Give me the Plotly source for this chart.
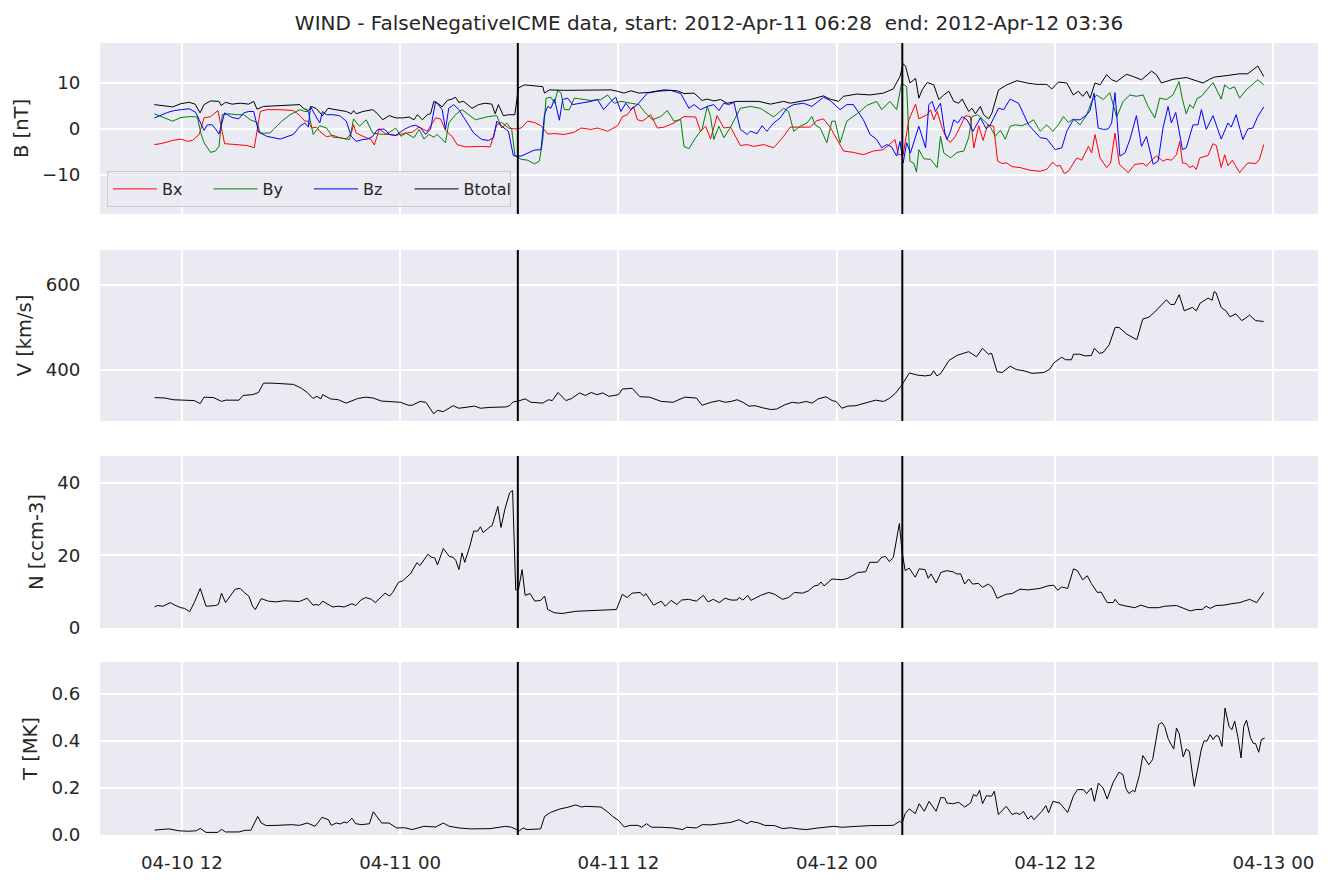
import pandas as pd
import plotly.graph_objects as go

BASE = pd.Timestamp("2012-04-10 00:00")
TITLE = "WIND - FalseNegativeICME data, start: 2012-Apr-11 06:28\u00a0 end: 2012-Apr-12 03:36"
EVENT_START_H = 30 + 28 / 60   # 2012-04-11 06:28
EVENT_END_H = 51 + 36 / 60     # 2012-04-12 03:36

# ---------- magnetic field [nT]; times in hours since 2012-04-10 00:00 ----------
bt_h = [10.49,10.95,11.49,11.95,12.40,12.73,13.00,13.22,13.58,14.04,14.16,14.40,14.76,15.22,15.67,15.95,16.13,16.49,17.40,18.49,18.67,18.95,19.13,19.40,19.73,20.04,20.31,21.04,21.31,21.44,21.58,21.95,22.49,22.76,23.04,23.40,23.76,24.13,24.49,24.76,24.95,25.22,25.49,25.67,25.85,26.13,26.31,26.58,26.85,27.04,27.22,27.49,27.95,28.31,28.67,29.04,29.22,29.40,29.67,29.98,30.30,30.50,30.83,31.20,31.84,31.93,32.20,33.02,34.67,35.58,35.95,36.31,36.68,37.13,37.77,38.50,39.23,39.60,40.15,40.60,40.88,41.24,41.61,41.97,42.52,43.25,43.71,44.35,45.08,45.44,45.99,46.54,47.27,47.63,48.09,48.37,49.10,49.83,50.56,51.10,51.47,51.65,51.78,52.02,52.33,52.51,52.69,52.97,53.33,53.61,53.88,54.16,54.43,54.70,54.89,55.25,55.43,55.62,55.89,56.07,56.35,56.53,56.89,57.35,57.90,58.45,59.00,59.54,59.82,60.18,60.64,61.00,61.28,61.52,61.74,61.92,62.19,62.47,62.83,63.11,63.38,63.93,64.29,64.75,65.30,65.57,65.84,66.12,66.48,67.21,67.58,68.13,68.49,68.77,69.41,70.14,70.59,70.87,71.14,71.47]
bt = [5.3,5.1,4.8,5.5,5.8,5.4,3.5,5.3,6.1,6.0,5.1,5.8,5.4,5.6,5.4,6.0,4.3,4.9,5.1,5.3,4.5,4.0,4.9,4.4,2.9,4.5,4.3,3.8,3.3,4.0,3.3,3.8,4.2,3.3,2.0,2.9,2.4,2.4,2.6,2.0,3.1,2.0,3.1,3.3,6.0,5.4,4.8,6.2,6.5,6.9,5.8,6.0,4.5,5.3,5.6,5.4,3.3,5.3,2.9,3.1,3.1,8.9,9.6,9.5,9.2,7.8,8.5,8.4,8.4,8.5,8.2,7.8,8.3,7.8,8.0,8.5,8.3,7.7,7.8,6.2,6.5,6.1,6.4,5.6,6.0,6.1,6.0,5.4,6.0,5.6,6.0,6.4,7.2,6.5,6.0,7.1,7.6,7.4,7.8,8.7,11.4,14.2,13.6,10.0,11.0,6.7,8.5,10.1,9.6,6.4,7.4,8.2,6.0,5.6,6.5,3.8,4.5,3.3,4.9,3.1,2.2,3.5,8.5,9.6,10.5,10.0,9.7,9.7,8.7,10.2,10.0,7.4,8.2,7.1,8.2,6.7,10.0,9.6,11.8,10.7,10.3,11.9,11.4,10.7,12.6,11.8,10.0,10.3,10.8,11.2,10.7,10.0,10.8,11.3,11.6,12.0,12.0,12.9,13.7,11.4]

bx_h = [10.49,10.85,11.49,11.95,12.31,12.58,12.95,13.22,13.58,13.98,14.35,14.85,15.58,15.98,16.31,16.67,17.40,18.13,18.49,18.76,18.95,19.13,19.40,19.58,19.95,20.31,20.67,21.04,21.31,21.44,21.58,22.13,22.40,22.58,22.85,23.22,23.76,24.31,24.67,25.04,25.49,25.95,26.22,26.49,26.85,27.13,27.58,28.31,28.95,29.31,29.58,29.95,30.31,30.65,31.01,31.38,31.74,32.11,32.48,33.02,33.57,33.94,34.48,34.85,35.40,35.95,36.22,36.49,36.82,37.04,37.32,37.77,38.14,38.50,39.05,39.60,40.24,40.51,40.79,41.06,41.42,41.79,42.16,42.70,43.07,43.43,43.98,44.53,45.08,45.44,45.99,46.54,46.90,47.27,47.63,48.00,48.37,48.91,49.46,50.01,50.56,51.20,51.38,51.65,51.96,52.33,52.51,52.97,53.15,53.33,53.52,53.79,54.06,54.25,54.52,54.79,55.07,55.34,55.53,55.80,56.04,56.29,56.62,56.84,57.08,57.35,57.63,58.08,58.63,59.18,59.54,59.87,60.09,60.27,60.51,60.73,61.00,61.19,61.46,61.83,62.01,62.19,62.47,62.83,63.05,63.29,63.53,64.02,64.38,64.84,65.02,65.35,65.57,65.94,66.12,66.39,66.67,66.85,67.00,67.21,67.40,67.58,67.76,67.95,68.40,68.68,68.86,69.13,69.32,69.50,69.74,70.14,70.59,71.05,71.23,71.47]
bx = [-3.4,-3.2,-2.5,-2.2,-2.7,-2.5,-1.2,2.4,2.7,4.0,-3.2,-3.4,-3.6,-4.1,3.8,4.2,4.2,4.0,2.9,1.7,1.7,0.2,0.4,-0.5,-1.7,-1.4,-1.9,-2.2,-0.9,0.9,-0.9,-1.9,-2.3,-3.5,0.0,-1.1,-1.4,-0.9,-0.7,0.4,-0.5,2.4,2.2,-0.3,-1.6,-3.4,-3.9,-3.8,-3.9,0.9,1.4,0.2,0.0,0.2,1.7,1.4,0.7,-1.1,-1.0,-1.2,-0.7,0.2,-0.1,0.2,-0.5,0.7,2.7,3.1,4.9,2.0,1.7,3.1,0.2,0.4,1.3,2.7,2.6,-0.5,0.6,-2.2,2.9,0.2,0.4,-3.6,-3.4,-3.8,-3.4,-4.1,-1.6,0.4,0.4,0.4,1.8,2.2,0.4,-2.2,-4.8,-5.1,-5.6,-4.8,-4.5,-2.3,-5.6,-5.6,2.0,5.4,2.2,3.1,4.2,2.0,3.8,0.2,-2.3,-2.9,-1.6,0.6,2.9,2.7,-4.1,0.7,-2.5,0.9,0.6,-7.0,-7.5,-7.4,-8.2,-8.4,-9.0,-9.2,-8.8,-7.2,-8.1,-7.9,-9.7,-9.2,-7.4,-6.3,-6.8,-3.8,-5.2,-1.2,-6.3,-8.4,-7.4,-0.9,-7.7,-9.5,-7.7,-7.5,-8.1,-6.6,-5.9,-7.0,-6.6,-6.8,-5.6,-2.7,-7.4,-7.5,-8.4,-8.0,-8.8,-6.3,-5.8,-3.2,-3.6,-8.4,-5.6,-8.0,-6.8,-9.5,-7.4,-7.5,-6.6,-3.4]

by_h = [10.49,10.95,11.49,11.95,12.49,12.85,13.04,13.22,13.58,13.85,14.04,14.22,14.58,15.04,15.40,15.76,16.13,16.31,16.85,17.04,17.49,17.95,18.49,18.76,18.95,19.22,19.58,19.95,20.31,20.67,21.22,21.44,21.76,22.13,22.49,22.85,23.22,23.76,24.04,24.31,24.76,25.04,25.31,25.58,25.85,26.04,26.31,26.49,26.67,27.04,27.40,27.76,28.13,28.85,29.31,29.58,29.85,30.13,30.31,30.65,31.01,31.38,31.65,31.84,32.02,32.29,32.48,32.66,32.84,33.02,33.30,33.57,34.03,34.48,35.03,35.40,35.76,36.13,36.68,37.13,37.41,37.86,38.32,38.68,39.05,39.42,39.60,39.87,40.24,40.60,40.88,41.06,41.24,41.52,41.79,42.16,42.70,43.25,43.80,44.53,45.08,45.35,45.63,45.99,46.36,46.63,46.81,47.09,47.45,47.73,47.91,48.18,48.55,49.28,49.64,49.92,50.19,50.47,50.92,51.29,51.56,51.84,52.02,52.24,52.38,52.51,52.79,53.15,53.52,53.70,53.88,54.25,54.61,54.98,55.25,55.43,55.74,56.07,56.44,56.71,56.99,57.26,57.53,57.81,58.17,58.54,58.81,59.18,59.54,59.87,60.18,60.46,60.73,61.00,61.37,61.74,62.01,62.28,62.65,63.01,63.38,63.74,64.11,64.47,64.84,65.11,65.48,65.75,66.12,66.48,66.81,67.00,67.21,67.40,67.58,67.82,68.04,68.68,69.13,69.32,69.59,69.86,70.14,70.50,71.14,71.47]
by = [3.3,2.6,1.7,2.5,2.7,2.6,-0.9,-3.0,-5.1,-4.8,-3.8,3.1,3.3,3.1,3.1,2.0,1.4,-0.9,-0.9,-0.1,1.7,3.1,4.2,3.8,3.8,-1.2,0.7,0.2,-1.8,-1.9,-2.3,2.2,0.6,2.0,-0.9,-1.1,-1.2,0.2,-1.6,-0.9,-1.9,-0.1,-2.2,-1.2,-1.8,-1.2,-2.3,-3.0,1.3,3.1,4.2,3.1,2.0,2.7,2.9,0.2,1.3,-0.1,-5.8,-6.6,-6.8,-7.6,-7.0,-2.3,6.7,6.9,5.6,8.4,7.8,4.2,4.2,6.7,6.5,6.2,6.4,7.4,5.6,6.0,5.6,5.3,3.8,2.0,2.7,4.0,1.7,2.0,-3.8,-4.3,-1.9,0.0,4.9,2.7,-2.3,0.6,-1.9,0.4,4.5,4.9,4.5,2.6,4.5,3.8,-0.5,0.6,1.3,2.7,0.9,0.2,-3.0,1.7,1.7,-3.0,1.7,3.8,5.1,5.6,6.0,4.2,6.0,4.2,10.0,9.2,-7.0,-7.5,-9.4,-4.5,-6.5,-6.6,-8.4,-1.6,-5.2,-6.3,-5.1,-4.8,-1.9,2.7,3.1,1.9,0.4,-1.6,-0.3,-2.2,0.6,0.9,0.7,1.3,2.0,-0.5,0.9,-0.5,0.9,2.7,1.4,2.2,0.9,3.1,6.0,7.4,6.4,7.9,2.6,6.0,7.4,7.1,7.4,4.9,2.4,6.7,6.4,7.4,10.3,6.4,3.3,5.3,4.5,6.7,7.1,10.1,6.5,9.6,8.7,9.2,6.7,8.5,10.7,9.6]

bz_h = [10.49,10.76,11.22,11.58,12.04,12.40,12.76,13.04,13.22,13.40,13.67,13.85,14.04,14.35,14.76,15.13,15.40,15.67,15.95,16.22,16.67,17.40,18.13,18.49,18.76,18.95,19.07,19.31,19.58,19.73,19.95,20.31,20.67,21.04,21.31,21.58,21.95,22.22,22.49,22.76,23.13,23.40,23.76,24.22,24.58,24.85,25.13,25.40,25.67,25.95,26.31,26.49,26.67,26.95,27.22,27.58,28.04,28.49,28.85,29.13,29.31,29.58,29.95,30.22,30.37,30.65,31.01,31.38,31.74,31.93,32.11,32.29,32.48,32.75,32.93,33.21,33.48,33.94,34.48,34.85,35.18,35.58,35.85,36.13,36.40,36.68,37.04,37.59,38.14,38.87,39.42,39.87,40.15,40.51,40.88,41.24,41.52,41.79,42.06,42.34,42.70,43.07,43.25,43.62,43.89,44.16,44.53,44.89,45.26,45.63,46.17,46.63,46.90,47.27,47.63,48.18,48.55,48.91,49.46,49.83,50.19,50.47,50.74,51.01,51.29,51.47,51.65,51.84,52.05,52.51,52.88,53.06,53.24,53.42,53.70,53.94,54.06,54.25,54.43,54.65,54.89,55.16,55.49,55.89,56.22,56.44,56.89,57.17,57.53,57.99,58.54,59.18,59.54,60.00,60.37,60.64,61.00,61.37,61.74,61.92,62.14,62.37,62.65,62.92,63.11,63.29,63.56,63.84,64.11,64.47,64.75,65.02,65.39,65.66,65.94,66.21,66.39,66.63,67.00,67.21,67.58,67.85,68.04,68.31,68.68,69.13,69.50,69.68,69.95,70.32,70.59,70.87,71.14,71.47]
bz = [2.4,2.9,3.6,4.0,4.2,4.4,3.6,1.3,-0.3,0.9,0.9,0.0,-1.1,3.5,2.5,2.2,3.5,3.8,3.8,-0.7,-1.6,-2.2,-1.2,0.6,1.3,0.4,4.9,3.1,1.3,3.8,3.1,3.1,2.9,1.7,-1.6,-2.7,-2.3,-2.2,-1.6,-0.1,0.0,-1.2,-1.4,-0.1,0.6,0.8,0.2,-1.2,0.0,6.0,4.2,-0.1,4.5,5.3,4.2,2.0,-0.9,-2.3,-2.5,-1.9,1.7,0.6,-0.5,-5.8,-5.9,-5.9,-5.2,-4.6,-4.5,3.1,4.9,4.5,6.5,1.9,6.4,6.7,5.3,5.6,6.0,6.4,4.2,6.0,6.9,3.8,5.6,4.2,5.3,7.8,8.2,8.4,7.7,4.5,5.3,4.2,4.9,5.3,4.0,5.6,5.3,5.8,-0.1,-1.2,-0.5,-1.0,0.7,-0.5,1.3,2.4,4.5,5.3,5.6,4.9,5.8,6.9,6.2,4.2,5.3,5.3,2.0,-1.2,-2.3,-4.1,-3.4,-3.9,-5.9,-2.7,-7.4,-3.0,-5.2,0.6,-4.1,5.3,6.0,3.8,5.6,-0.9,-2.3,-0.5,2.0,1.3,2.7,2.0,-0.5,2.4,0.0,0.9,4.5,4.2,6.5,5.6,0.9,-1.9,-2.1,-4.5,-4.1,-0.5,2.0,2.0,3.1,4.0,7.8,0.2,-0.1,0.0,1.3,7.9,-5.9,-5.2,-2.3,2.9,-3.8,-1.6,-7.7,-7.0,0.4,4.9,1.3,3.6,-4.5,-4.1,0.9,0.9,4.2,-0.1,2.9,-2.2,1.3,0.4,3.1,-2.3,0.0,0.2,2.7,4.8]

# ---------- bulk speed [km/s] ----------
v_h = [10.50,11.08,11.51,12.00,12.68,13.01,13.22,13.75,14.18,14.40,15.14,15.36,15.89,16.21,16.49,16.96,18.14,18.57,18.89,19.21,19.42,19.64,19.74,20.17,20.60,21.03,21.35,21.67,22.10,22.52,22.95,23.38,24.02,24.45,24.66,25.09,25.41,25.84,26.05,26.37,26.91,27.23,27.66,28.09,28.41,28.94,29.80,30.01,30.22,30.50,30.87,31.19,31.83,32.15,32.36,32.68,33.11,33.43,33.86,34.18,34.50,34.82,35.14,35.47,36.00,36.21,36.75,37.18,37.71,38.35,39.00,39.64,40.28,40.60,41.09,41.54,41.86,42.19,42.52,42.84,43.17,43.50,43.93,44.37,44.69,45.13,45.56,45.89,46.32,46.65,46.98,47.41,47.74,47.96,48.28,48.61,49.04,49.59,50.13,50.57,50.89,51.22,51.55,51.99,52.42,52.85,53.18,53.33,53.50,53.72,54.16,54.59,55.25,55.68,56.01,56.33,56.51,56.81,57.09,57.53,57.86,58.29,58.73,59.38,59.71,59.92,60.36,60.58,60.90,61.01,61.34,61.66,61.99,62.16,62.43,62.64,62.97,63.30,63.51,63.95,64.17,64.49,64.82,65.15,65.47,65.80,66.12,66.34,66.56,66.82,67.10,67.54,67.76,67.97,68.41,68.63,68.74,68.84,69.13,69.39,69.61,69.93,70.26,70.48,70.69,71.02,71.46]
v = [335,334,330,329,328,321,336,335,326,329,329,340,342,347,369,369,366,357,347,333,338,332,342,332,330,322,328,333,336,334,327,326,324,317,317,326,324,297,305,302,316,310,312,315,310,312,313,316,325,327,332,324,322,330,328,347,328,333,346,340,347,342,346,338,342,355,357,337,336,326,324,336,334,317,324,328,324,326,330,324,315,316,311,307,308,318,324,322,326,322,332,337,328,326,310,315,316,322,329,326,333,345,363,393,388,386,388,398,386,392,422,434,443,431,451,437,439,396,394,409,401,398,392,394,402,416,430,424,424,437,437,433,434,451,439,441,459,500,500,484,479,471,520,524,536,551,565,554,554,577,539,547,539,557,569,564,584,582,547,539,525,532,516,522,529,516,514]

# ---------- proton density [ccm-3] ----------
n_h = [10.50,10.65,10.97,11.36,11.61,11.94,12.15,12.43,12.68,13.01,13.33,13.86,14.01,14.18,14.40,14.93,15.21,15.42,15.68,15.89,16.04,16.36,16.75,17.18,17.60,18.25,18.46,18.89,19.21,19.42,19.53,19.74,20.28,20.60,20.92,21.35,21.56,21.84,22.10,22.42,22.63,23.17,23.42,23.59,23.91,24.13,24.56,24.92,25.09,25.52,25.73,25.90,26.05,26.37,26.70,26.91,27.06,27.23,27.40,27.55,27.83,28.04,28.26,28.41,28.56,28.94,29.05,29.37,29.54,29.75,30.01,30.18,30.35,30.50,30.70,30.87,31.14,31.40,31.72,31.94,32.11,32.47,32.90,33.65,34.29,35.14,35.89,36.21,36.47,36.75,37.18,37.39,37.50,37.93,38.35,38.57,38.89,39.21,39.47,39.85,40.28,40.66,40.92,41.21,41.54,41.86,42.19,42.52,42.63,42.84,43.10,43.28,43.82,44.26,44.58,45.02,45.35,45.67,46.11,46.43,46.76,46.98,47.13,47.30,47.74,48.28,48.61,49.15,49.59,49.81,50.24,50.46,50.68,50.89,51.11,51.44,51.59,51.76,51.98,52.31,52.53,52.85,53.03,53.18,53.46,53.72,54.05,54.38,54.59,54.81,55.03,55.25,55.46,55.79,56.01,56.33,56.55,56.81,57.31,57.64,58.07,58.51,59.16,59.60,59.92,60.14,60.36,60.69,61.01,61.23,61.51,61.77,61.99,62.32,62.53,62.86,63.19,63.30,63.51,63.95,64.38,64.71,65.15,65.69,66.02,66.67,66.99,67.43,67.76,68.08,68.30,68.52,68.84,69.28,69.71,70.15,70.69,71.08,71.46]
n = [5.8,6.2,6.0,7.0,6.3,5.6,5.4,4.5,7.0,10.9,6.0,6.2,6.5,9.6,7.0,10.7,10.9,9.8,8.8,6.0,5.1,8.1,7.4,7.2,7.5,7.5,7.3,8.2,6.3,6.5,6.2,7.4,5.8,6.0,5.8,6.7,6.2,7.7,8.4,7.9,7.0,9.6,8.8,9.8,12.6,13.0,14.9,18.0,17.2,20.3,19.5,19.3,17.4,21.9,19.7,19.5,18.6,16.1,20.7,18.1,22.6,26.7,26.7,27.9,26.3,27.9,28.2,33.5,27.7,32.6,37.2,37.9,10.5,10.5,16.1,9.0,9.5,7.4,7.6,8.8,5.1,4.2,4.0,4.6,4.7,4.8,5.1,9.3,8.4,9.6,9.8,8.8,9.5,6.3,7.4,6.0,7.6,6.5,7.7,7.9,7.4,9.0,7.2,7.9,7.0,8.2,7.7,7.7,8.4,7.7,9.0,7.6,9.0,9.8,9.3,7.9,8.4,9.8,9.6,10.2,11.6,11.8,12.7,11.6,13.5,13.3,13.7,15.3,15.5,18.1,18.1,19.5,19.7,18.3,19.5,28.8,20.9,15.8,16.5,14.0,16.3,16.1,13.7,14.9,12.4,15.3,15.8,15.5,14.9,14.9,12.1,13.5,12.1,12.3,11.2,12.1,11.2,8.2,9.3,9.5,10.7,10.5,10.9,11.6,11.8,10.4,11.3,10.9,16.3,15.8,13.3,14.4,12.3,9.8,9.9,7.0,7.0,7.9,6.5,6.0,5.6,6.3,5.6,5.6,6.0,6.2,5.6,4.7,5.1,5.1,6.0,5.4,6.2,6.3,6.7,7.0,7.9,7.0,9.8]

# ---------- proton temperature [MK] ----------
t_h = [10.50,11.29,11.83,12.36,12.79,13.01,13.33,13.97,14.18,14.40,15.14,15.47,15.79,16.17,16.36,16.64,17.18,18.03,18.46,18.89,19.32,19.70,20.06,20.21,20.49,20.71,20.92,21.07,21.35,21.56,21.88,22.31,22.52,22.78,22.99,23.38,23.81,24.24,24.66,25.30,25.95,26.37,26.70,27.23,27.87,28.94,29.80,30.12,30.40,30.55,30.76,30.97,31.72,31.94,32.26,32.79,33.22,33.65,33.97,34.18,35.04,35.36,35.68,36.00,36.32,36.64,37.07,37.28,37.54,37.82,38.35,39.00,39.53,39.74,40.28,40.60,41.09,41.76,42.19,42.63,43.06,43.28,43.71,44.04,44.58,45.02,45.45,45.89,46.32,46.98,47.41,47.85,48.28,48.72,49.15,49.81,50.68,51.11,51.44,51.59,51.76,51.98,52.31,52.53,52.81,53.07,53.46,53.72,53.94,54.05,54.38,54.70,55.03,55.35,55.51,55.68,55.85,56.01,56.22,56.51,56.66,56.88,57.31,57.64,57.86,58.07,58.25,58.51,58.68,58.84,59.27,59.49,59.64,59.88,60.25,60.69,61.01,61.23,61.56,61.73,61.99,62.16,62.38,62.64,62.86,63.19,63.51,63.73,63.90,64.06,64.27,64.38,64.64,64.82,65.15,65.36,65.69,65.86,66.02,66.23,66.52,66.67,66.82,67.04,67.21,67.38,67.54,67.65,67.82,68.04,68.19,68.34,68.52,68.69,68.84,68.99,69.17,69.34,69.56,69.71,69.87,70.04,70.22,70.37,70.52,70.74,70.91,71.02,71.19,71.34,71.52]
t = [0.021,0.026,0.018,0.016,0.018,0.028,0.011,0.011,0.024,0.013,0.013,0.020,0.020,0.079,0.051,0.040,0.041,0.044,0.041,0.051,0.037,0.075,0.065,0.041,0.051,0.047,0.055,0.051,0.071,0.048,0.044,0.048,0.099,0.072,0.051,0.051,0.030,0.031,0.023,0.037,0.034,0.051,0.037,0.030,0.026,0.027,0.037,0.033,0.023,0.018,0.030,0.023,0.026,0.079,0.096,0.111,0.118,0.128,0.119,0.122,0.119,0.101,0.079,0.062,0.034,0.041,0.041,0.033,0.048,0.033,0.033,0.030,0.023,0.033,0.030,0.044,0.043,0.051,0.054,0.065,0.048,0.058,0.051,0.041,0.040,0.027,0.031,0.026,0.023,0.030,0.033,0.037,0.033,0.034,0.037,0.040,0.040,0.041,0.058,0.051,0.091,0.111,0.091,0.133,0.101,0.143,0.101,0.160,0.157,0.136,0.133,0.139,0.119,0.136,0.172,0.165,0.190,0.133,0.167,0.165,0.186,0.087,0.122,0.087,0.094,0.087,0.101,0.068,0.082,0.065,0.101,0.125,0.094,0.143,0.136,0.096,0.167,0.193,0.193,0.176,0.200,0.143,0.221,0.200,0.153,0.224,0.267,0.257,0.196,0.176,0.190,0.183,0.257,0.338,0.299,0.321,0.469,0.479,0.462,0.406,0.366,0.455,0.431,0.332,0.366,0.356,0.264,0.207,0.275,0.366,0.401,0.399,0.427,0.406,0.423,0.420,0.377,0.540,0.462,0.448,0.484,0.420,0.328,0.462,0.488,0.413,0.389,0.389,0.352,0.406,0.413]

panel_labels = ["B [nT]", "V [km/s]", "N [ccm-3]", "T [MK]"]
b_names = ["Bx", "By", "Bz", "Btotal"]
b_colors = ["#ff0000", "#008000", "#0000ff", "#000000"]


def to_time(hours):
    return [BASE + pd.Timedelta(hours=h) for h in hours]


FONT = "DejaVu Sans"
TXT = "#262626"
BG = "#eaeaf2"

fig = go.Figure()
for name, col, hh, vals in zip(b_names, b_colors, [bx_h, by_h, bz_h, bt_h], [bx, by, bz, bt]):
    fig.add_trace(go.Scatter(x=to_time(hh), y=vals, mode="lines", name=name,
                             line=dict(color=col, width=1), xaxis="x", yaxis="y"))
fig.add_trace(go.Scatter(x=to_time(v_h), y=v, mode="lines", showlegend=False,
                         line=dict(color="black", width=1), xaxis="x2", yaxis="y2"))
fig.add_trace(go.Scatter(x=to_time(n_h), y=n, mode="lines", showlegend=False,
                         line=dict(color="black", width=1), xaxis="x3", yaxis="y3"))
fig.add_trace(go.Scatter(x=to_time(t_h), y=t, mode="lines", showlegend=False,
                         line=dict(color="black", width=1), xaxis="x4", yaxis="y4"))

W, H = 1335, 886
ML, MR, MT, MB = 100, 17, 43, 51
plot_h = H - MT - MB
pix = [(43, 214), (250, 421), (456, 628), (662, 835)]
domains = [[(835 - b) / plot_h, (835 - a) / plot_h] for a, b in pix]

x_range = [BASE + pd.Timedelta(hours=7.5), BASE + pd.Timedelta(hours=74.45)]
y_ranges = [[-18.5, 18.7], [280, 682], [0, 47.4], [0, 0.736]]
y_ticks = [[-10, 0, 10], [400, 600], [0, 20, 40], [0.0, 0.2, 0.4, 0.6]]
y_fmt = ["d", "d", "d", ".1f"]

layout = dict(
    width=W, height=H,
    margin=dict(l=ML, r=MR, t=MT, b=MB),
    paper_bgcolor="white", plot_bgcolor=BG,
    font=dict(family=FONT, color=TXT, size=16),
    showlegend=True,
    title=dict(text=TITLE, x=(100 + 1318) / 2 / W, xanchor="center",
               y=1 - 23 / H, yanchor="middle", font=dict(size=20, color=TXT)),
    legend=dict(orientation="h", x=(107 - ML) / (W - ML - MR), y=(835 - 207) / plot_h,
                xanchor="left", yanchor="bottom", bgcolor="rgba(234,234,242,0.8)",
                bordercolor="#cccccc", borderwidth=1, font=dict(size=16, color=TXT),
                itemwidth=44, entrywidth=41.5, entrywidthmode="pixels", tracegroupgap=0),
    shapes=[],
)

for i in range(4):
    sx = "" if i == 0 else str(i + 1)
    layout["xaxis" + sx] = dict(
        domain=[0, 1], anchor="y" + sx, range=x_range, type="date",
        tick0="2012-04-10 00:00", dtick=12 * 3600 * 1000, tickformat="%m-%d %H",
        showgrid=True, gridcolor="white", gridwidth=1.8, zeroline=False, showline=False,
        showticklabels=(i == 3), ticks="outside" if i == 3 else "", ticklen=11,
        tickcolor="rgba(0,0,0,0)", tickfont=dict(size=18.2, color=TXT),
        matches=None if i == 0 else "x",
    )
    layout["yaxis" + sx] = dict(
        domain=domains[i], anchor="x" + sx, range=y_ranges[i],
        tickvals=y_ticks[i], tickformat=y_fmt[i],
        showgrid=True, gridcolor="white", gridwidth=1.8, zeroline=False, showline=False,
        ticks="outside", ticklen=15, tickcolor="rgba(0,0,0,0)",
        tickfont=dict(size=18.2, color=TXT),
        title=dict(text=panel_labels[i], font=dict(size=19.5, color=TXT), standoff=8),
    )
    for ev in (EVENT_START_H, EVENT_END_H):
        xe = BASE + pd.Timedelta(hours=ev)
        layout["shapes"].append(dict(type="line", xref="x" + sx, yref=("y" + sx) + " domain",
                                     x0=xe, x1=xe, y0=0, y1=1,
                                     line=dict(color="black", width=2)))

fig.update_layout(**layout)
fig.write_html("out.html")
